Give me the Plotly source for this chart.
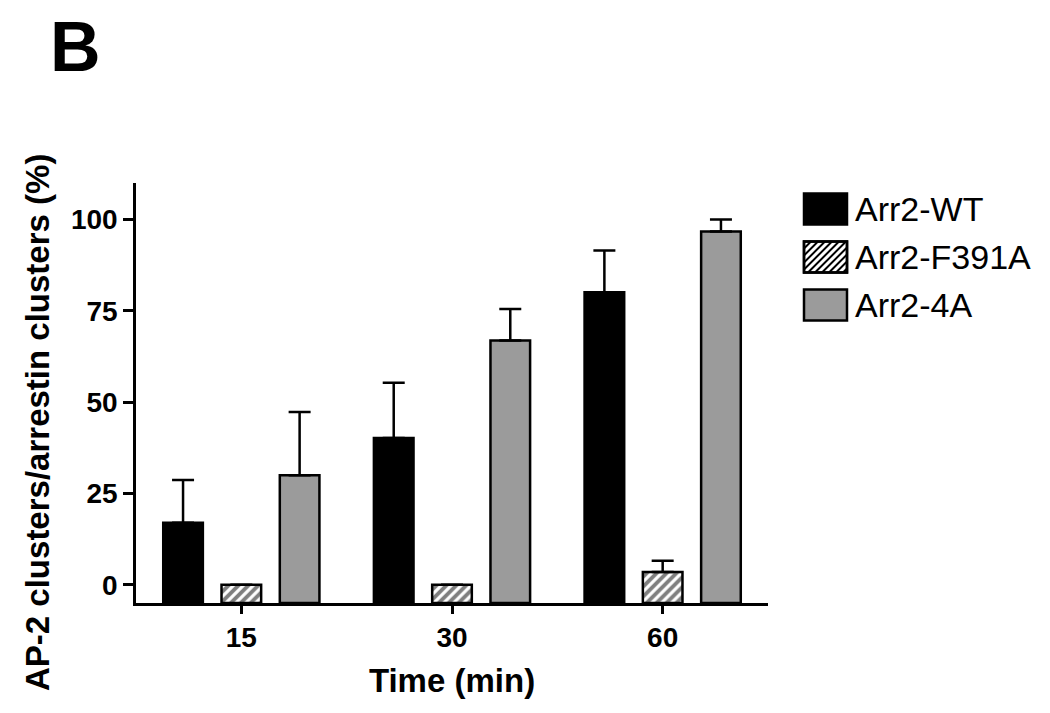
import plotly.graph_objects as go

# ---- data ----
times = ["15", "30", "60"]
series_names = ["Arr2-WT", "Arr2-F391A", "Arr2-4A"]
wt_mean = [17.0, 40.2, 80.1]
wt_err = [11.7, 15.1, 11.4]
f391a_mean = [0.0, 0.0, 3.5]
f391a_err = [0.0, 0.0, 3.1]
a4_mean = [30.0, 66.9, 96.7]
a4_err = [17.3, 8.6, 3.3]
y_ticks = [0, 25, 50, 75, 100]

Y_MIN, Y_MAX = -5, 110
FONT = "Liberation Sans, Arial, sans-serif"

W_FIG, H_FIG = 1050, 713
M_L, M_R, M_T, M_B = 136, 282, 183, 110
PW = W_FIG - M_L - M_R
PH = H_FIG - M_T - M_B


def px(xp):
    return (xp - M_L) / PW


def py(yp):
    return (H_FIG - M_B - yp) / PH


means = [wt_mean, f391a_mean, a4_mean]
errs = [wt_err, f391a_err, a4_err]
fills = ["#000000", "#ffffff", "#9b9b9b"]
HATCH = dict(shape="/", fgcolor="black", bgcolor="white", size=7, solidity=0.55)

fig = go.Figure()
for name, m, e, fc in zip(series_names, means, errs, fills):
    marker = dict(color=fc, line=dict(color="black", width=2.5))
    if name == "Arr2-F391A":
        marker["pattern"] = HATCH
    fig.add_trace(go.Bar(
        name=name,
        x=times,
        y=[v - Y_MIN for v in m],
        base=Y_MIN,
        marker=marker,
        showlegend=False,
        error_y=dict(type="data", symmetric=False, array=e,
                     arrayminus=[0] * len(e), color="black",
                     thickness=2.5, width=11),
    ))

fig.update_layout(
    width=W_FIG, height=H_FIG,
    margin=dict(l=M_L, r=M_R, t=M_T, b=M_B, autoexpand=False),
    paper_bgcolor="white", plot_bgcolor="white",
    barmode="group", bargap=0.17, bargroupgap=0.32,
    font=dict(family=FONT, color="black"),
    showlegend=False,
)

fig.update_xaxes(
    type="category", range=[-0.5, 2.5],
    showline=True, linecolor="black", linewidth=2.5,
    ticks="outside", ticklen=8, tickwidth=2.5, tickcolor="black",
    tickfont=dict(size=28, family=FONT, color="black", weight="bold"),
    showgrid=False, zeroline=False,
    title=dict(text="Time (min)", standoff=17,
               font=dict(size=33, family=FONT, color="black", weight="bold")),
)
fig.update_yaxes(
    range=[Y_MIN, Y_MAX], tickvals=y_ticks,
    showline=True, linecolor="black", linewidth=2.5,
    ticks="outside", ticklen=10, tickwidth=2.5, tickcolor="black",
    tickfont=dict(size=28, family=FONT, color="black", weight="bold"),
    showgrid=False, zeroline=False,
)

fig.add_annotation(
    text="AP-2 clusters/arrestin clusters (%)",
    xref="paper", yref="paper", x=px(37), y=py(423),
    xanchor="center", yanchor="middle", textangle=-90, showarrow=False,
    font=dict(size=33, family=FONT, color="black", weight="bold"),
)
fig.add_annotation(
    text="B", xref="paper", yref="paper", x=px(75), y=py(47),
    xanchor="center", yanchor="middle", showarrow=False,
    font=dict(size=70, family=FONT, color="black", weight="bold"),
)

# ---- legend (drawn as swatches + text) ----
SW_X0, SW_X1 = 804, 847
row_centers = [209, 257, 305]
SW_H = 31
for name, fc, yc in zip(series_names, fills, row_centers):
    y0, y1 = yc - SW_H / 2, yc + SW_H / 2
    fig.add_shape(type="rect", xref="paper", yref="paper",
                  x0=px(SW_X0), x1=px(SW_X1), y0=py(y1), y1=py(y0),
                  fillcolor=fc, line=dict(color="black", width=2.5),
                  layer="above")
    if name == "Arr2-F391A":
        # diagonal "/" hatch lines clipped to the swatch box
        segs = []
        step = 7
        c = SW_X0 + y0
        while c < SW_X1 + y1:
            pts = []
            for yy in (y0, y1):
                xx = c - yy
                if SW_X0 <= xx <= SW_X1:
                    pts.append((xx, yy))
            for xx in (SW_X0, SW_X1):
                yy = c - xx
                if y0 <= yy <= y1:
                    pts.append((xx, yy))
            if len(pts) >= 2:
                pts.sort()
                (ax, ay), (bx, by) = pts[0], pts[-1]
                segs.append(f"M{px(ax)},{py(ay)} L{px(bx)},{py(by)}")
            c += step
        fig.add_shape(type="path", xref="paper", yref="paper",
                      path=" ".join(segs), line=dict(color="black", width=2),
                      layer="above")
        fig.add_shape(type="rect", xref="paper", yref="paper",
                      x0=px(SW_X0), x1=px(SW_X1), y0=py(y1), y1=py(y0),
                      fillcolor="rgba(0,0,0,0)", line=dict(color="black", width=2.5),
                      layer="above")
    fig.add_annotation(
        text=name, xref="paper", yref="paper", x=px(853), y=py(yc),
        xanchor="left", yanchor="middle", showarrow=False,
        font=dict(size=34, family=FONT, color="black"),
    )

fig.write_html("out.html",
               config={"displayModeBar": False},
               post_script="document.body.style.margin='0px';")
